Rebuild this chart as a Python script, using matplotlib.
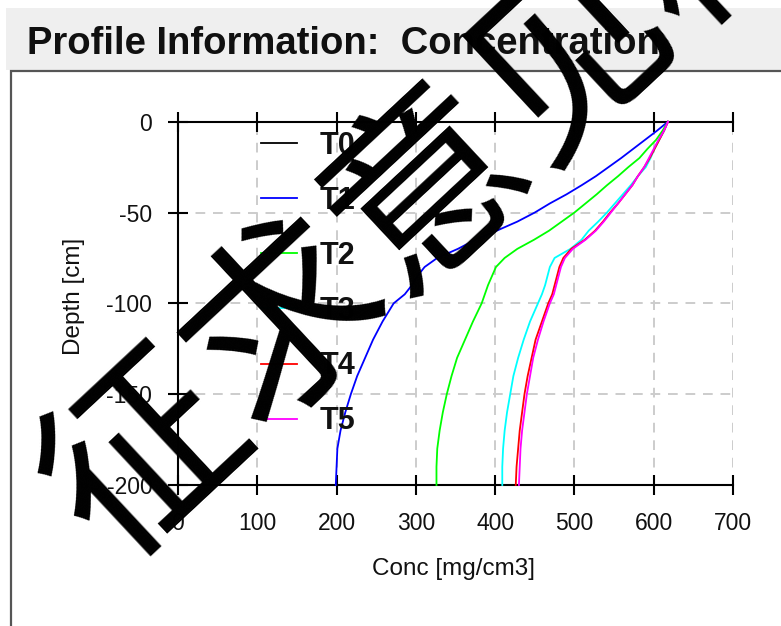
import matplotlib
matplotlib.use("Agg")
import matplotlib.pyplot as plt
from matplotlib.patches import Rectangle

plt.rcParams["axes.unicode_minus"] = False

# ---- data -------------------------------------------------------------
depth = [0, -5, -10, -15, -20, -25, -30, -35, -40, -45, -50, -55, -60, -65,
         -70, -75, -80, -85, -90, -95, -100, -110, -120, -130, -140, -150,
         -160, -170, -180, -190, -200]

conc_t0 = [0] * len(depth)
conc_t1 = [618, 604, 589, 574, 559, 543, 527, 509, 490, 469, 450, 428, 402,
           375, 353, 327, 311, 302, 295, 286, 272, 258, 246, 236, 226, 218,
           211, 205, 201, 200, 199]
conc_t2 = [618, 611, 603, 592, 582, 568, 555, 541, 528, 514, 500, 484, 468,
           449, 428, 412, 401, 396, 391, 387, 383, 372, 362, 352, 345, 339,
           334, 330, 327, 326, 326]
conc_t3 = [618, 613, 607, 601, 596, 590, 580, 571, 561, 551, 541, 530, 518,
           509, 495, 475, 469, 466, 463, 459, 454, 444, 436, 429, 423, 419,
           415, 412, 410, 409, 409]
conc_t4 = [618, 613, 607, 601, 595, 588, 580, 573, 564, 555, 545, 536, 526,
           513, 496, 486, 481, 478, 475, 472, 467, 459, 451, 446, 441, 437,
           434, 431, 429, 427, 426]
conc_t5 = [618, 613, 606, 600, 594, 588, 580, 573, 564, 555, 546, 537, 527,
           514, 498, 488, 483, 480, 477, 474, 469, 461, 454, 448, 444, 440,
           437, 434, 432, 431, 430]

series_names = ["T0", "T1", "T2", "T3", "T4", "T5"]
series_colors = ["#000000", "#0000ff", "#00ff00", "#00ffff", "#ff0000", "#ff00ff"]
series_values = [conc_t0, conc_t1, conc_t2, conc_t3, conc_t4, conc_t5]

x_ticks = [0, 100, 200, 300, 400, 500, 600, 700]
y_ticks = [0, -50, -100, -150, -200]

# ---- figure -----------------------------------------------------------
W, H = 781, 626
fig = plt.figure(figsize=(W / 100, H / 100), dpi=100, facecolor="white")


def fx(px):
    return px / W


def fy(py):
    return 1 - py / H


# window title bar and the panel below it
fig.patches.append(Rectangle((fx(6), fy(70)), fx(W) - fx(6), fy(8) - fy(70),
                             transform=fig.transFigure, facecolor="#efefef",
                             edgecolor="none", zorder=-3))
fig.patches.append(Rectangle((fx(11), fy(H + 20)), fx(W + 20) - fx(11), fy(71) - fy(H + 20),
                             transform=fig.transFigure, facecolor="white",
                             edgecolor="#555555", linewidth=1.6, zorder=-2))

fig.text(fx(27), fy(44), "Profile Information:  Concentration",
         family="Liberation Sans", fontweight="bold", fontsize=27.5,
         color="#101010", ha="left", va="center")

# ---- axes -------------------------------------------------------------
ax_l, ax_r, ax_t, ax_b = 178, 733, 121.7, 485
ax = fig.add_axes([fx(ax_l), fy(ax_b), fx(ax_r) - fx(ax_l), fy(ax_t) - fy(ax_b)])
ax.set_facecolor("none")
ax.set_zorder(1)

handles = []
for name, color, vals in zip(series_names, series_colors, series_values):
    ln, = ax.plot(vals, depth, color=color, linewidth=1.3, clip_on=False,
                  zorder=3, label=name)
    handles.append(ln)

ax.set_xlim(0, 700)
ax.set_ylim(-200, 0)
ax.set_xticks(x_ticks)
ax.set_yticks(y_ticks)

for side in ("left", "top", "bottom"):
    ax.spines[side].set_color("black")
    ax.spines[side].set_linewidth(1.5)
ax.spines["right"].set_visible(False)

ax.grid(True, color="#cccccc", linestyle=(0, (5, 4)), linewidth=1.4)
ax.tick_params(axis="x", top=True, bottom=True, direction="inout", length=15,
               width=1.5, pad=12, labelsize=16.5, labelcolor="#111111")
ax.tick_params(axis="y", left=True, right=False, direction="inout", length=15,
               width=1.5, pad=11, labelsize=16.5, labelcolor="#111111")
for lab in ax.get_xticklabels() + ax.get_yticklabels():
    lab.set_family("Liberation Sans")

ax.set_xlabel("Conc [mg/cm3]", family="Liberation Sans", fontsize=17.5, color="#111111")
ax.set_ylabel("Depth [cm]", family="Liberation Sans", fontsize=17.5, color="#111111")
ax.xaxis.set_label_coords((453 - ax_l) / (ax_r - ax_l), (ax_b - 558) / (ax_b - ax_t))
ax.yaxis.set_label_coords((85 - ax_l) / (ax_r - ax_l), (ax_b - 296) / (ax_b - ax_t))

leg = ax.legend(handles=handles, loc="upper left",
                bbox_to_anchor=((260.7 - ax_l) / (ax_r - ax_l), (ax_b - 131) / (ax_b - ax_t)),
                frameon=False, borderaxespad=0, borderpad=0,
                handlelength=1.18, handletextpad=0.75, labelspacing=0.82,
                prop={"family": "Liberation Sans", "weight": "bold", "size": 22})
for t in leg.get_texts():
    t.set_color("#111111")

# ---- draft watermark ----------------------------------------------------
fig.text(fx(432), fy(192), "征求意见稿", family="Noto Sans CJK SC",
         fontsize=140, rotation=43, rotation_mode="anchor",
         ha="center", va="center", color="black", zorder=20)

fig.savefig("out.png", dpi=100, facecolor="white")
